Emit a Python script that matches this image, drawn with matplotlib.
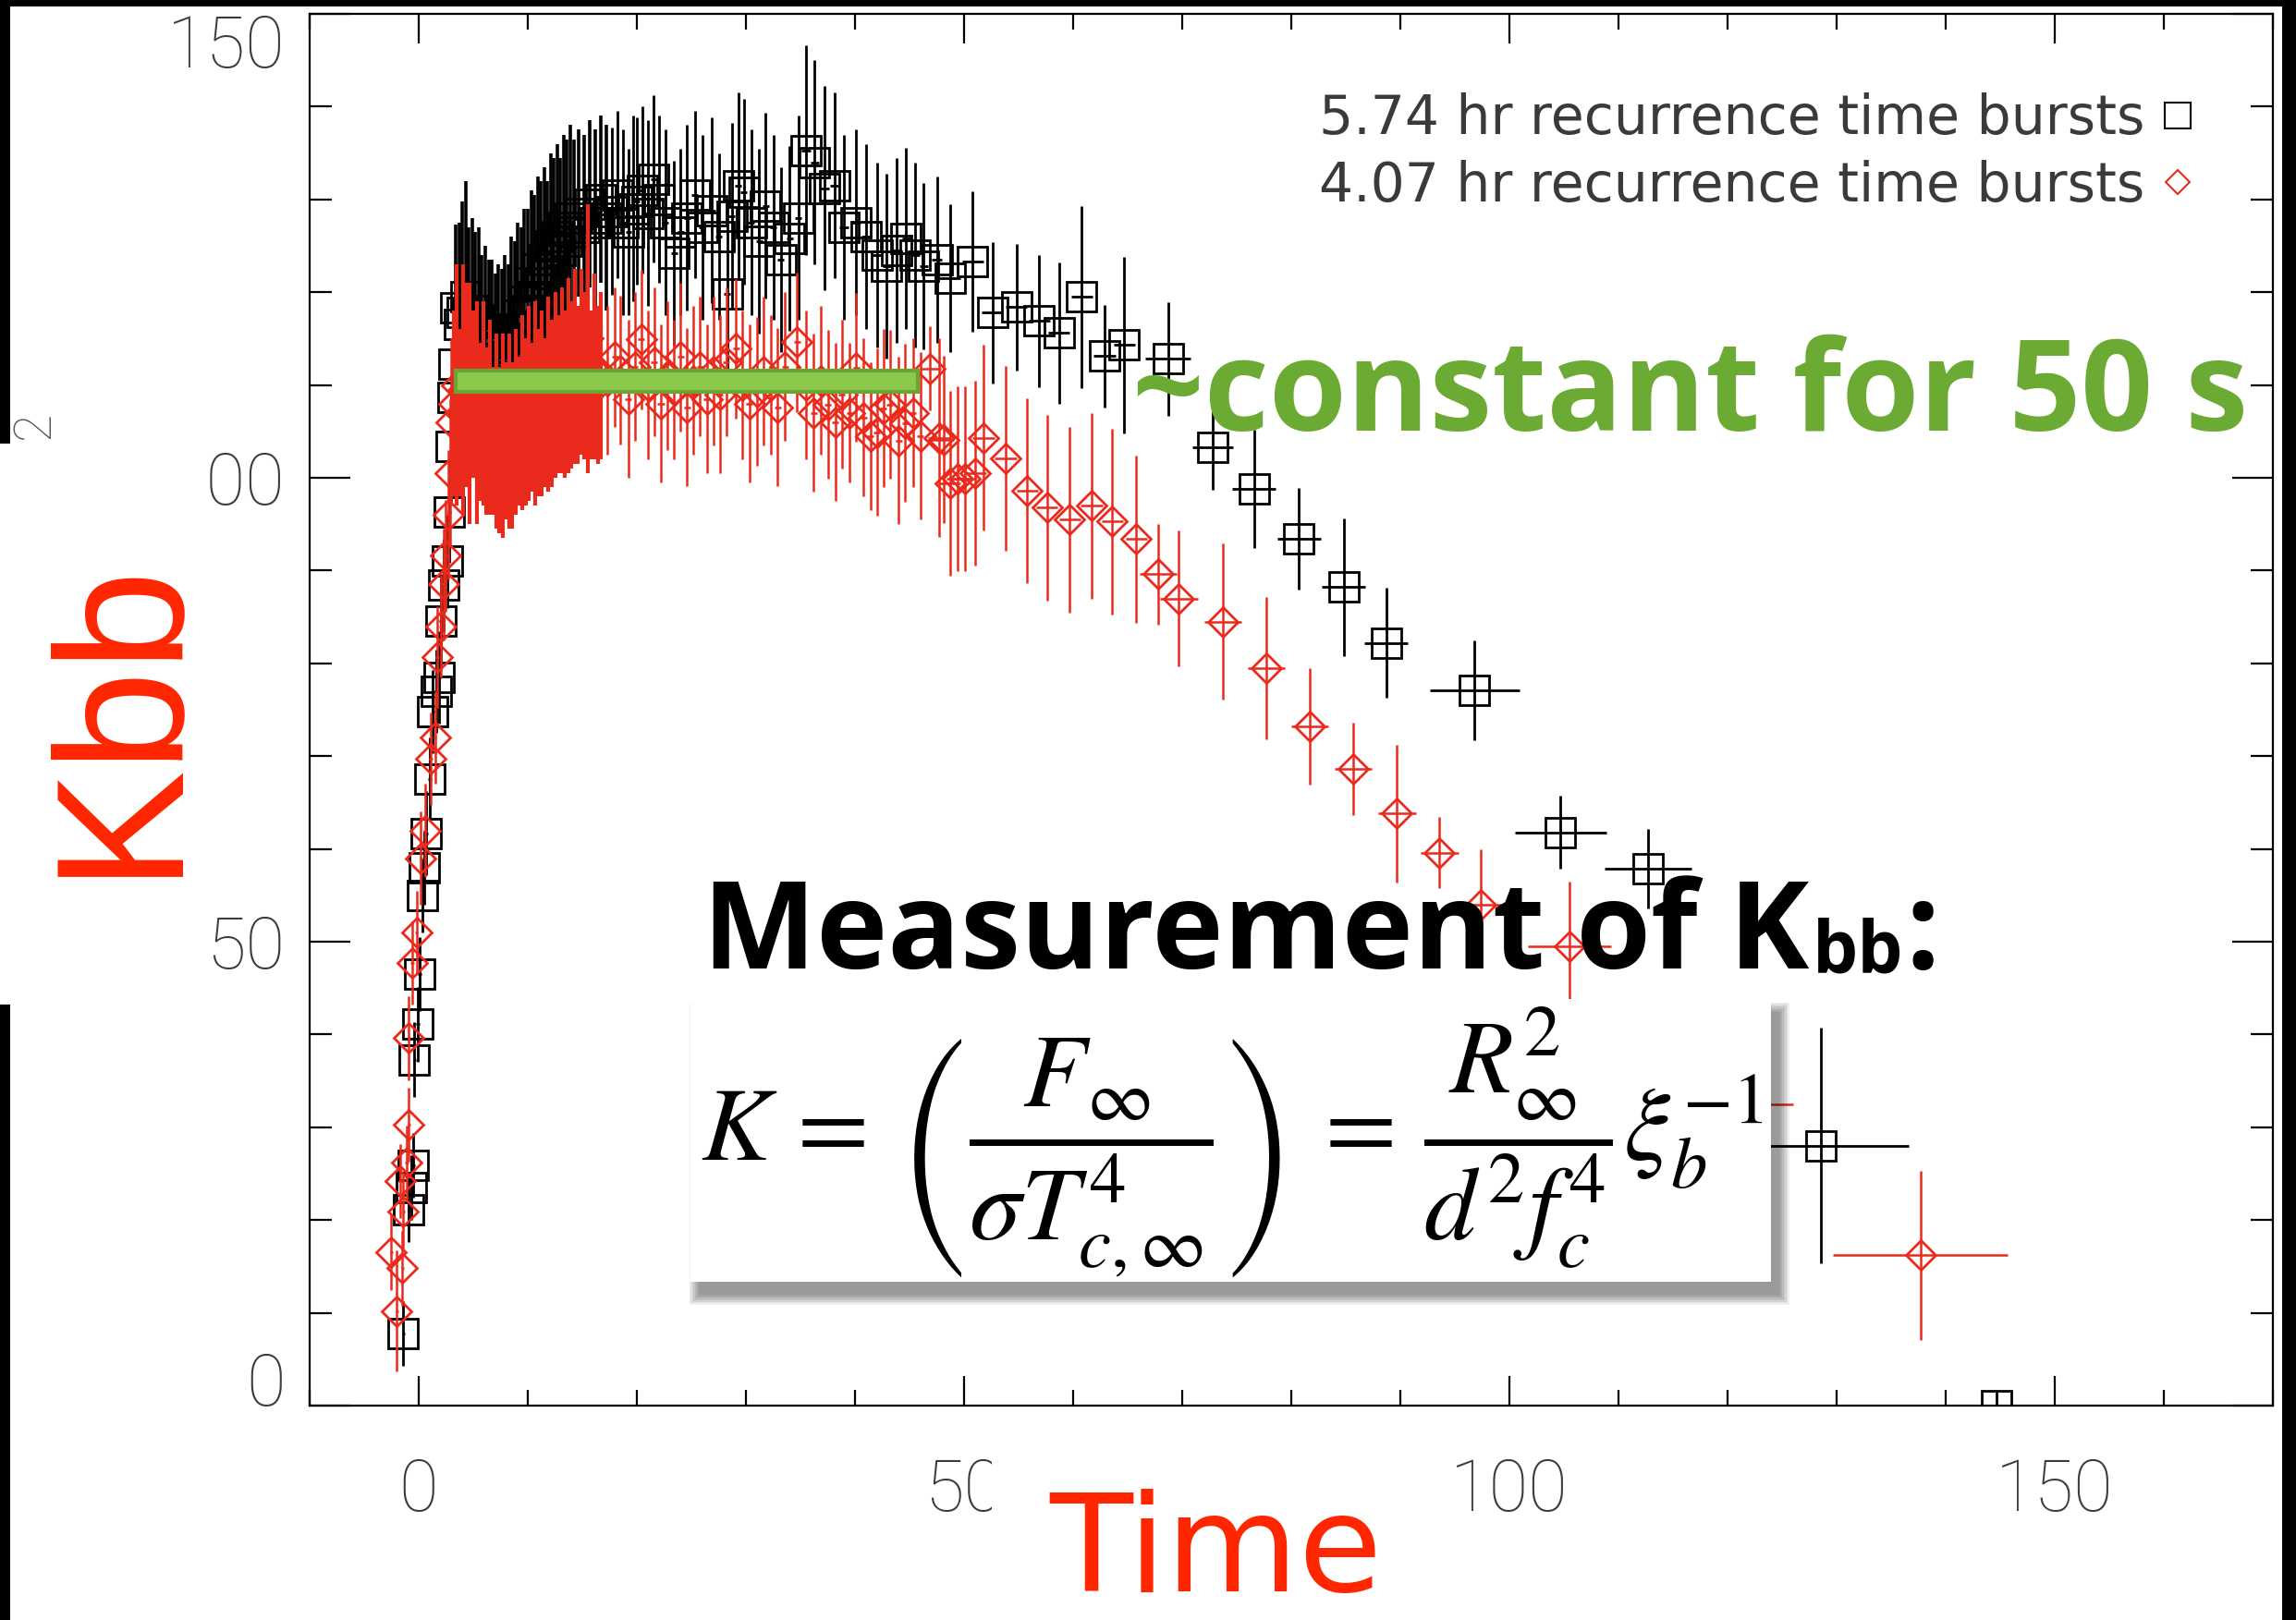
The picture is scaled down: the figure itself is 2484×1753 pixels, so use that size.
import matplotlib
matplotlib.use("Agg")
import matplotlib.pyplot as plt
from matplotlib.patches import Rectangle
from matplotlib.lines import Line2D
from matplotlib.ticker import MultipleLocator

# ---------------------------------------------------------------- data
# 5.74 hr recurrence time bursts (black squares)
t_574 = [-1.4, -0.9, -0.7, -0.5, -0.4, -0.1, 0.1, 0.3, 0.5, 0.7, 1.0, 1.3, 1.6, 1.9, 2.0, 2.3, 2.6, 2.8, 3.0, 3.1, 3.2, 3.4,
         3.7, 4.0, 4.3, 4.6, 4.9, 5.2, 5.5, 5.8, 6.1, 6.4, 6.7, 7.0, 7.3, 7.6, 7.9, 8.2, 8.5, 8.8, 9.1, 9.4, 9.7, 10.0,
         10.3, 10.6, 10.9, 11.2, 11.5, 11.8, 12.1, 12.4, 12.7, 13.0, 13.3, 13.6, 13.9,
         14.2, 14.7, 15.2, 15.7, 16.2, 16.7, 17.2,
         17.7, 18.2, 18.7, 19.2, 19.7, 20.0, 20.5, 21.0, 21.5, 22.0, 22.6,
         23.4, 24.0, 24.6, 25.3, 26.0, 26.9, 27.5, 28.3, 28.7, 29.3, 29.8, 30.5, 31.2, 31.8, 32.5, 33.2, 34.0, 34.8,
         35.5, 36.3, 37.2, 38.1, 39.0, 40.1, 41.0, 42.0, 42.9, 43.8, 44.7, 45.5, 46.3, 47.5,
         48.7, 50.8, 52.6, 54.8, 56.9, 58.7, 60.8, 62.9, 64.7, 68.7, 72.8, 76.6, 80.7, 84.8, 88.7, 96.8, 104.7,
         112.7, 128.6, 144.7]
k_574 = [7.8, 21.1, 23.5, 25.9, 37.3, 41.1, 46.5, 55.0, 58.0, 61.7, 67.5, 74.8, 77.0, 78.5, 84.6, 88.4, 91.0, 96.3,
         103.4, 108.7, 112.3, 118.3,
         116.5, 117.8, 119.5, 116.0, 118.0, 115.5, 117.0, 114.0, 116.0, 113.5, 114.5, 112.0, 114.0, 112.5, 115.0,
         113.0, 116.0, 114.5, 117.5, 116.0, 119.0, 118.0, 121.0, 119.5, 122.5, 121.0, 123.5, 122.0, 125.0, 123.5,
         126.0, 124.5, 127.0, 125.5, 128.0,
         126.5, 128.5, 127.0, 129.5, 127.5, 130.0, 128.0,
         128.7, 130.5, 127.5, 126.5, 129.0, 129.8, 131.0, 128.5, 132.2, 130.0, 127.5,
         124.2, 126.5, 128.0, 130.5, 127.0, 128.8, 126.0, 119.8, 128.2, 131.5, 130.8, 127.5, 125.5, 129.3, 127.0,
         123.5, 125.8, 128.0, 135.3, 134.0, 131.2, 131.5, 127.0, 127.5, 126.0, 124.0, 122.8, 124.5, 125.8, 124.0,
         122.8, 123.5,
         121.5, 123.3, 117.8, 118.4, 116.9, 115.6, 119.5, 113.1, 114.3, 112.8, 103.3, 98.8, 93.4, 88.2, 82.2, 77.1,
         61.8, 57.9, 28.0, 0.0]
kerr_574 = [3.5, 3.5, 3.5, 3.5, 4.0, 4.0, 4.0, 4.0, 4.0, 4.5, 4.5, 4.5, 4.5, 5.0, 5.0, 5.0, 5.0, 5.5, 6.0, 6.5, 7.0, 9.0,
            11.0, 12.0, 12.5, 11.0, 10.0, 11.0, 10.0, 10.0, 9.0, 10.0, 9.0, 10.0, 9.0, 10.0, 9.0, 10.0, 10.0, 11.0,
            10.0, 11.0, 10.0, 11.0, 10.0, 11.0, 10.0, 11.0, 10.0, 10.0, 10.0, 11.0, 10.0, 10.0, 10.0, 11.0, 10.0,
            10.0, 9.0, 10.0, 9.0, 10.0, 9.0, 10.0,
            9.0, 9.0, 10.0, 9.0, 10.0, 9.0, 9.0, 10.0, 9.0, 9.0, 10.0,
            10.0, 9.0, 10.0, 9.0, 10.0, 10.0, 9.0, 10.0, 10.0, 10.0, 10.0, 10.0, 10.0, 10.0, 10.0, 10.0, 10.0, 11.0,
            11.3, 11.0, 11.0, 10.0, 10.0, 10.0, 10.0, 10.0, 10.0, 10.0, 9.8, 10.0, 9.0, 9.0,
            8.0, 7.6, 7.6, 6.8, 7.1, 7.6, 9.8, 5.5, 9.5, 6.1, 4.6, 6.4, 5.5, 7.4, 5.9, 5.4, 3.9, 4.3, 12.7, 1.5]
terr_574 = [0.15, 0.15, 0.15, 0.15, 0.15, 0.15, 0.15, 0.15, 0.15, 0.15, 0.15, 0.15, 0.15, 0.15, 0.15, 0.15, 0.15,
            0.15, 0.15, 0.15, 0.15, 0.15,
            0.15, 0.15, 0.15, 0.15, 0.15, 0.15, 0.15, 0.15, 0.15, 0.15, 0.15, 0.15, 0.15, 0.15, 0.15, 0.15, 0.15,
            0.15, 0.15, 0.15, 0.15, 0.15, 0.15, 0.15, 0.15, 0.15, 0.15, 0.15, 0.15, 0.15, 0.15, 0.15, 0.15, 0.15,
            0.15,
            0.25, 0.25, 0.25, 0.25, 0.25, 0.25, 0.25,
            0.25, 0.25, 0.25, 0.25, 0.25, 0.25, 0.25, 0.25, 0.25, 0.25, 0.3,
            0.3, 0.3, 0.3, 0.3, 0.3, 0.3, 0.3, 0.3, 0.3, 0.3, 0.3, 0.3, 0.3, 0.3, 0.3, 0.3, 0.3, 0.3,
            0.4, 0.4, 0.4, 0.4, 0.4, 0.4, 0.4, 0.4, 0.4, 0.4, 0.4, 0.4, 0.4, 0.5,
            1.0, 1.0, 1.0, 1.0, 1.0, 1.0, 1.0, 1.0, 1.0, 2.1, 1.9, 2.0, 2.0, 2.0, 2.0, 4.1, 4.2, 4.0, 8.0, 0.0]

# 4.07 hr recurrence time bursts (red diamonds)
t_407 = [-2.5, -2.0, -1.7, -1.5, -1.4, -1.1, -0.9, -0.9, -0.6, -0.2, 0.2, 0.6, 1.1, 1.5, 1.7, 2.0, 2.3, 2.5, 2.7,
         2.9, 3.0,
         3.2, 3.5, 3.8, 4.1, 4.4, 4.7, 5.0, 5.3, 5.6, 5.9, 6.2, 6.5, 6.8, 7.1, 7.4, 7.7, 8.0, 8.3, 8.6, 8.9, 9.2,
         9.5, 9.8, 10.1, 10.4, 10.7, 11.0, 11.3, 11.6, 11.9, 12.2, 12.5, 12.8, 13.1, 13.4, 13.7, 14.0, 14.3, 14.6,
         14.9, 15.2, 15.5, 15.8, 16.1, 16.4, 16.7,
         17.3, 18.0, 18.5, 19.2, 19.8, 20.4, 21.0, 21.6, 22.2, 22.8, 23.4, 24.0, 24.6, 25.2, 25.8, 26.4, 27.0,
         27.6, 28.2, 29.1, 29.7, 30.3, 31.0, 31.6, 32.3, 32.9, 33.6, 34.7, 35.5, 36.2, 36.9, 37.5, 38.2, 38.8,
         39.5, 40.1, 40.8, 41.4, 42.0, 42.6, 43.2, 44.0, 44.6, 45.3, 46.0,
         46.9, 47.7, 48.1, 48.7, 49.4, 50.1, 51.0, 51.8, 53.8, 55.8, 57.6, 59.7, 61.7, 63.6, 65.8, 67.8, 69.7,
         73.7, 77.7, 81.7, 85.7, 89.7, 93.6, 97.4, 105.5, 121.5, 137.7]
k_407 = [16.5, 10.2, 24.2, 14.8, 20.9, 26.2, 30.3, 39.6, 47.7, 51.0, 59.0, 62.0, 69.7, 72.0, 80.7, 84.0, 88.5, 91.6,
         96.0, 100.5, 106.0,
         108.0, 110.0, 107.0, 109.5, 110.0, 108.0, 109.0, 107.0, 106.0, 108.0,
         105.0, 106.5, 104.0, 105.0, 103.0, 104.5, 104.0, 105.0, 103.5, 106.0,
         105.0, 107.0, 106.0, 108.0, 106.5, 108.0, 107.0, 108.0, 107.0, 109.0,
         108.0, 110.0, 109.0, 110.5, 109.0, 111.0, 110.0, 112.0, 110.0, 112.5,
         111.0, 115.0, 110.0, 112.0, 110.0, 111.0,
         110.5, 113.0, 111.6, 108.5, 112.0, 114.9, 110.0, 112.5, 108.0, 111.0, 109.5, 113.0, 107.6, 110.5, 112.0,
         108.5, 111.5, 109.0, 112.5, 113.9, 110.0, 108.0, 109.3, 111.5, 110.0, 107.6, 112.0, 114.6, 110.0, 107.0,
         110.5, 107.9, 106.0, 109.0, 107.0, 111.9, 106.5, 104.5, 104.9, 107.5, 107.9, 104.0, 105.9, 107.0, 104.5,
         111.8, 104.3, 104.1, 99.4, 99.9, 99.9, 100.5, 104.3, 102.1, 98.6, 96.8, 95.5, 97.0, 95.3, 93.4, 89.6,
         87.0, 84.5, 79.5, 73.2, 68.6, 63.8, 59.6, 54.0, 49.5, 32.5, 16.2]
kerr_407 = [4.0, 6.5, 4.0, 4.0, 4.0, 4.0, 4.0, 4.5, 4.5, 4.5, 5.0, 5.0, 5.0, 5.0, 5.5, 5.5, 6.0, 6.0, 7.0, 8.0, 9.0,
            10.0, 13.0, 9.0, 13.5, 11.0, 13.0, 9.0, 12.0, 8.5, 11.0,
            9.0, 10.5, 8.0, 10.5, 9.0, 11.0, 8.5, 10.5, 9.0, 10.0,
            8.0, 10.5, 9.0, 10.5, 8.0, 11.0, 9.0, 10.0, 8.0, 10.5,
            9.0, 10.0, 8.5, 10.0, 9.0, 10.5, 9.0, 10.5, 8.5, 10.0,
            9.0, 14.5, 8.0, 10.0, 8.5, 9.0,
            8.0, 7.5, 8.0, 8.5, 8.0, 7.5, 8.0, 8.0, 8.5, 8.0, 7.5, 8.0, 8.5, 8.0, 7.5, 8.0, 8.0, 8.5, 8.0, 7.5,
            8.0, 8.5, 8.0, 8.0, 7.5, 8.5, 8.0, 7.5, 8.0, 8.5, 8.0, 8.0, 8.5, 8.0, 7.5, 8.0, 8.5, 8.0, 9.0, 8.5,
            8.0, 9.0, 8.5, 8.0, 9.0,
            4.5, 10.7, 9.0, 10.0, 10.0, 10.0, 10.0, 10.0, 10.0, 10.0, 10.0, 10.0, 10.0, 10.0, 9.0, 5.4, 7.3,
            8.4, 7.7, 6.3, 5.0, 7.4, 3.8, 6.0, 7.0, 10.0, 9.1]
terr_407 = [0.15, 0.15, 0.15, 0.15, 0.15, 0.15, 0.15, 0.15, 0.15, 0.15, 0.15, 0.15, 0.15, 0.15, 0.15, 0.15, 0.15,
            0.15, 0.15, 0.15, 0.15,
            0.15, 0.15, 0.15, 0.15, 0.15, 0.15, 0.15, 0.15, 0.15, 0.15, 0.15, 0.15, 0.15, 0.15, 0.15, 0.15, 0.15,
            0.15, 0.15, 0.15, 0.15, 0.15, 0.15, 0.15, 0.15, 0.15, 0.15, 0.15, 0.15, 0.15, 0.15, 0.15, 0.15, 0.15,
            0.15, 0.15, 0.15, 0.15, 0.15, 0.15, 0.15, 0.15, 0.15, 0.15, 0.15, 0.15,
            0.3, 0.3, 0.3, 0.3, 0.3, 0.3, 0.3, 0.3, 0.3, 0.3, 0.3, 0.3, 0.3, 0.3, 0.3, 0.3, 0.3, 0.3, 0.3, 0.3,
            0.3, 0.3, 0.3, 0.3, 0.3, 0.3, 0.3, 0.3, 0.3, 0.3, 0.3, 0.3, 0.3, 0.3, 0.3, 0.3, 0.3, 0.3, 0.3, 0.3,
            0.3, 0.3, 0.3, 0.3, 0.3,
            1.0, 1.0, 1.0, 1.0, 1.0, 1.0, 1.0, 1.0, 1.0, 1.0, 1.0, 1.0, 1.0, 1.0, 1.0, 1.7, 1.7,
            1.7, 1.7, 1.7, 1.7, 1.7, 1.7, 2.0, 3.8, 4.5, 8.0]

for name, cols in (("574", (t_574, k_574, kerr_574, terr_574)), ("407", (t_407, k_407, kerr_407, terr_407))):
    assert len(set(len(c) for c in cols)) == 1, name

legend_labels = ["5.74 hr recurrence time bursts", "4.07 hr recurrence time bursts"]
x_ticks = [0, 50, 100, 150]
y_ticks = [0, 50, 100, 150]
tick_labels_x = ["0", "50", "100", "150"]
tick_labels_y = ["0", "50", "100", "150"]

# constant phase of the 4.07 hr bursts: start, end, level
plateau_start, plateau_end, plateau_level = 3.4, 45.8, 110.4
# densely sampled peak interval (drawn with heavier error bars)
peak_window = (3.15, 17.25)

# ---------------------------------------------------------------- layout
FIG_W, FIG_H = 2484, 1753
fig = plt.figure(figsize=(FIG_W / 100, FIG_H / 100), dpi=100, facecolor="black")


def fig_x(px):
    return px / FIG_W


def fig_y(py):
    return 1.0 - py / FIG_H


def fig_box(x0, y0, x1, y1, **kw):
    """Rectangle given by pixel corners (y measured downwards)."""
    return Rectangle((fig_x(x0), fig_y(y1)), fig_x(x1) - fig_x(x0), fig_y(y0) - fig_y(y1),
                     transform=fig.transFigure, **kw)


# white page of the plot on the black slide
fig.add_artist(fig_box(11, 7, 2469, FIG_H, facecolor="white", edgecolor="none", zorder=-10))

ax = fig.add_axes([fig_x(335), fig_y(1521), fig_x(2459) - fig_x(335), fig_y(15) - fig_y(1521)])
ax.set_facecolor("white")
ax.set_xlim(-10, 170)
ax.set_ylim(0, 150)

RED = "#ea2a1c"


def split(t, *cols):
    inside = [i for i, v in enumerate(t) if peak_window[0] < v < peak_window[1]]
    outside = [i for i, v in enumerate(t) if not (peak_window[0] < v < peak_window[1])]
    pick = lambda idx: [[c[i] for i in idx] for c in (t,) + cols]
    return pick(inside), pick(outside)


def draw_series(t, k, kerr, terr, marker, ms, color, lw, lw_dense, z):
    dense, sparse = split(t, k, kerr, terr)
    for (tt, kk, ke, te), width in ((sparse, lw), (dense, lw_dense)):
        ax.errorbar(tt, kk, yerr=ke, xerr=te, fmt=marker, ms=ms, mfc="none", mec=color, mew=2.0,
                    ecolor=color, elinewidth=width, capsize=0, zorder=z)


draw_series(t_574, k_574, kerr_574, terr_574, "s", 23, "black", 2.0, 2.6, 2)
draw_series(t_407, k_407, kerr_407, terr_407, "D", 16, RED, 1.8, 3.0, 3)

# green bar marking the constant phase
ax.add_patch(Rectangle((plateau_start, plateau_level - 1.15), plateau_end - plateau_start, 2.3,
                       facecolor="#8cc84b", edgecolor="#69a532", linewidth=3, zorder=4))

# axes, ticks
for sp in ax.spines.values():
    sp.set_linewidth(1.6)
    sp.set_color("black")
ax.set_xticks(x_ticks)
ax.set_xticklabels(tick_labels_x)
ax.set_yticks(y_ticks)
ax.set_yticklabels(tick_labels_y)
ax.xaxis.set_minor_locator(MultipleLocator(10))
ax.yaxis.set_minor_locator(MultipleLocator(10))
ax.tick_params(which="both", direction="in", top=True, right=True, width=1.6, color="black")
ax.xaxis.set_tick_params(which="major", length=23, pad=40)
ax.xaxis.set_tick_params(which="minor", length=12)
ax.yaxis.set_tick_params(which="major", length=32, pad=19)
ax.yaxis.set_tick_params(which="minor", length=17)
for lab in ax.get_xticklabels() + ax.get_yticklabels():
    lab.set_fontfamily(["Roboto", "DejaVu Sans"])
    lab.set_fontweight("light")
    lab.set_fontsize(56)
    lab.set_color("#3c3c3c")
yt = ax.yaxis.get_major_ticks()
yt[0].label1.set_verticalalignment("baseline")
yt[-1].label1.set_verticalalignment("top")

# legend
handles = [Line2D([], [], ls="none", marker="s", ms=20, mfc="none", mec="black", mew=1.5),
           Line2D([], [], ls="none", marker="D", ms=13, mfc="none", mec=RED, mew=1.5)]
ax.legend(handles, legend_labels, loc="upper right", bbox_to_anchor=(fig_x(2376), fig_y(100)),
          bbox_transform=fig.transFigure, frameon=False, markerfirst=False, handlelength=0.7,
          handletextpad=0.25, labelspacing=0.27, borderpad=0, borderaxespad=0,
          prop=dict(family=["DejaVu Sans"], size=42), labelcolor="#3a3a3a")

# ---------------------------------------------------------------- slide annotations
# white panels behind the axis titles
fig.add_artist(fig_box(0, 480, 215, 1087, facecolor="white", edgecolor="none", zorder=5))
fig.add_artist(fig_box(1073, 1570, 1540, FIG_H, facecolor="white", edgecolor="none", zorder=5))

# remnant of the underlying axis title
fig.text(fig_x(53), fig_y(475), "2", rotation=90, rotation_mode="anchor", ha="left", va="baseline",
         fontsize=40, color="#555555", family=["Roboto", "DejaVu Sans"], weight="light", zorder=6)

title_red = "#ff2600"
fig.text(fig_x(182), fig_y(948), "Kbb", rotation=90, rotation_mode="anchor", ha="left", va="baseline",
         fontsize=141, color=title_red, family=["Liberation Sans Narrow", "Liberation Sans", "DejaVu Sans"],
         zorder=6)
fig.text(fig_x(1135), fig_y(1722), "Time", ha="left", va="baseline", fontsize=106, color=title_red,
         family=["DejaVu Sans"], zorder=6)

fig.text(fig_x(1225), fig_y(466), "~constant for 50 s", ha="left", va="baseline", fontsize=98,
         fontweight="bold", color="#6cab33", family=["Open Sans", "DejaVu Sans"], zorder=6)

# "Measurement of Kbb:" with a smaller bb
bold_font = dict(fontweight="bold", color="black", family=["Open Sans", "DejaVu Sans"], zorder=6)
t_main = fig.text(fig_x(760), fig_y(1048), "Measurement of K", ha="left", va="baseline", fontsize=94,
                  **bold_font)
renderer = fig.canvas.get_renderer()
bb_main = t_main.get_window_extent(renderer)
t_sub = fig.text(bb_main.x1 / FIG_W + fig_x(4), fig_y(1053), "bb", ha="left", va="baseline", fontsize=56,
                 **bold_font)
bb_sub = t_sub.get_window_extent(renderer)
fig.text(bb_sub.x1 / FIG_W + fig_x(2), fig_y(1048), ":", ha="left", va="baseline", fontsize=94, **bold_font)

# formula card with a soft drop shadow
for i in range(8):
    grow = 1.5 * i
    fig.add_artist(fig_box(747 + 9 - grow, 1081 + 14 - grow, 1916 + 9 + grow, 1387 + 14 + grow,
                           facecolor="black", edgecolor="none", alpha=0.06, zorder=5))
fig.add_artist(fig_box(747, 1081, 1916, 1387, facecolor="white", edgecolor="none", zorder=5))
fig.text(fig_x(1333), fig_y(1236),
         r"$K\,=\,\left(\dfrac{F_{\infty}}{\sigma T^{4}_{c,\infty}}\right)\,=\,"
         r"\dfrac{R^{2}_{\infty}}{d^{2} f^{4}_{c}}\xi_{b}^{-1}$",
         ha="center", va="center", fontsize=81, color="black", math_fontfamily="stix", zorder=6)

fig.savefig("out.png", dpi=100, facecolor=fig.get_facecolor())
